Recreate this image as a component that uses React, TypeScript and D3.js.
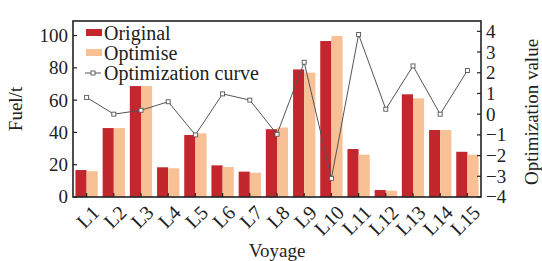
import React from "react";
import * as d3 from "d3";

const voyages = ["L1","L2","L3","L4","L5","L6","L7","L8","L9","L10","L11","L12","L13","L14","L15"];
const original = [16.7, 42.7, 68.7, 18.4, 38.4, 19.6, 15.7, 42.0, 79.0, 96.6, 29.7, 4.3, 63.6, 41.5, 28.0];
const optimise = [16.0, 42.7, 68.7, 17.8, 39.4, 18.6, 15.0, 43.0, 77.0, 99.7, 26.2, 3.9, 61.1, 41.5, 26.2];
const curve = [0.81, 0.0, 0.19, 0.6, -1.0, 0.98, 0.68, -0.97, 2.51, -3.1, 3.85, 0.24, 2.33, 0.0, 2.11];
const leftTicks = [0, 20, 40, 60, 80, 100];
const rightTicks = [-4, -3, -2, -1, 0, 1, 2, 3, 4];

const W = 542, H = 261;
const L = 73, R = 481, T = 21, B = 197;
const RED = "#c3272e";
const ORANGE = "#f8c095";
const FONT = "'Liberation Serif', 'Times New Roman', serif";

export default function App() {
  const x = d3.scaleBand<string>().domain(voyages).range([L, R]).paddingInner(0.18).paddingOuter(0.09);
  const xc = (v: string) => (x(v) as number) + x.bandwidth() / 2;
  const y = d3.scaleLinear().domain([0, 109]).range([B, T]);
  const y2 = d3.scaleLinear().domain([-4, 4.5]).range([B, T]);
  const bw = x.bandwidth() / 2;
  const line = d3.line<number>().x((_, i) => xc(voyages[i])).y((d) => y2(d));

  return (
    <svg width={W} height={H} style={{ position: "absolute", left: 0, top: 0, background: "#fff" }} fontFamily={FONT}>
      {voyages.map((v, i) => (
        <g key={v}>
          <rect x={x(v)} y={y(original[i])} width={bw} height={B - y(original[i])} fill={RED} />
          <rect x={(x(v) as number) + bw} y={y(optimise[i])} width={bw} height={B - y(optimise[i])} fill={ORANGE} />
        </g>
      ))}
      <path d={line(curve) || ""} fill="none" stroke="#555" strokeWidth={1} />
      {curve.map((c, i) => (
        <rect key={i} x={xc(voyages[i]) - 2} y={y2(c) - 2} width={4} height={4} fill="#fff" stroke="#555" strokeWidth={0.9} />
      ))}
      <rect x={L} y={T} width={R - L} height={B - T} fill="none" stroke="#222" strokeWidth={1.6} />
      {leftTicks.map((t) => (
        <g key={t}>
          <line x1={L} x2={L + 4} y1={y(t)} y2={y(t)} stroke="#222" strokeWidth={1.2} />
          <text x={L - 5} y={y(t)} dy="0.34em" textAnchor="end" fontSize={19} fill="#222">{t}</text>
        </g>
      ))}
      {rightTicks.map((t) => (
        <g key={t}>
          <line x1={R - 4} x2={R} y1={y2(t)} y2={y2(t)} stroke="#222" strokeWidth={1.2} />
          <text x={R + 5} y={y2(t)} dy="0.34em" textAnchor="start" fontSize={19} fill="#222">{t < 0 ? "\u2212" + Math.abs(t) : t}</text>
        </g>
      ))}
      {voyages.map((v) => (
        <g key={v}>
          <line x1={xc(v)} x2={xc(v)} y1={B} y2={B - 4} stroke="#222" strokeWidth={1.2} />
          <text transform={`translate(${xc(v) + 4},${B + 7}) rotate(-45)`} textAnchor="end" dy="0.7em" fontSize={20} fill="#222">{v}</text>
        </g>
      ))}
      <text transform={`translate(22,${(T + B) / 2}) rotate(-90)`} textAnchor="middle" fontSize={19} fill="#222">Fuel/t</text>
      <text transform={`translate(538,${(T + B) / 2 + 3}) rotate(-90)`} textAnchor="middle" fontSize={19} fill="#222">Optimization value</text>
      <text x={277} y={257} textAnchor="middle" fontSize={19} fill="#222">Voyage</text>
      <rect x={86} y={29} width={16} height={7} fill={RED} />
      <text x={104} y={32.5} dy="0.35em" fontSize={20} fill="#222">Original</text>
      <rect x={86} y={49} width={16} height={7} fill={ORANGE} />
      <text x={104} y={52.5} dy="0.35em" fontSize={20} fill="#222">Optimise</text>
      <line x1={85} x2={101} y1={73} y2={73} stroke="#555" strokeWidth={1} />
      <rect x={91} y={71} width={4} height={4} fill="#fff" stroke="#555" strokeWidth={0.9} />
      <text x={104} y={73} dy="0.35em" fontSize={20} fill="#222">Optimization curve</text>
    </svg>
  );
}
